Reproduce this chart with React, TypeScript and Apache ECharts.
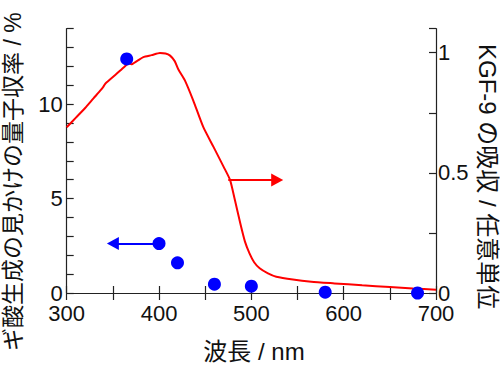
import React, { useEffect, useRef } from "react";
import * as echarts from "echarts";

const absorption: [number, number][] = [
  [300, 0.69], [310, 0.73], [320, 0.77], [329, 0.81], [337, 0.845], [340, 0.86], [342, 0.872],
  [354, 0.912], [362, 0.94], [367, 0.955], [370, 0.952], [376, 0.965], [383, 0.982], [392, 0.99],
  [401, 0.999], [407, 0.997], [412, 0.988], [417, 0.965], [421, 0.93], [428, 0.885], [437, 0.802],
  [448, 0.69], [459, 0.608], [470, 0.525], [477, 0.47], [482, 0.39], [488, 0.29], [493, 0.215],
  [498, 0.165], [503, 0.128], [509, 0.103], [518, 0.082], [527, 0.068], [545, 0.056], [565, 0.047],
  [590, 0.04], [620, 0.032], [650, 0.025], [675, 0.019], [700, 0.014],
];

const yieldWavelengths = [365, 400, 420, 460, 500, 580, 680];
const yieldValues = [12.4, 2.62, 1.6, 0.47, 0.36, 0.04, 0.0];

const redArrow: [number, number][] = [[475, 0.47], [528, 0.47]];
const blueArrow: [number, number][] = [[400, 2.62], [350, 2.62]];

const xTitle = "波長 / nm";
const leftTitle = "ギ酸生成の見かけの量子収率 / %";
const rightTitle = "KGF-9 の吸収 / 任意単位";

const FONT = "'Liberation Sans', Arial, 'Noto Sans CJK JP', sans-serif";

export default function App() {
  const ref = useRef<HTMLDivElement>(null);
  useEffect(() => {
    if (!ref.current) return;
    const chart = echarts.init(ref.current, undefined, { renderer: "svg" });
    const axisLine = { show: true, lineStyle: { color: "#222", width: 1.2 } };
    const tick = { show: true, inside: true, length: 7, lineStyle: { color: "#222", width: 1.2 } };
    chart.setOption({
      animation: false,
      backgroundColor: "#fff",
      grid: { left: 66.7, right: 64, top: 28.7, bottom: 76, containLabel: false },
      xAxis: [
        {
          type: "value", min: 300, max: 700, interval: 50, position: "bottom",
          axisLine, axisTick: tick, splitLine: { show: false },
          axisLabel: {
            fontSize: 22, lineHeight: 16, color: "#111", fontFamily: FONT, margin: 12,
            formatter: (v: number) => (v % 100 === 0 ? String(v) : ""),
          },
        },
        {
          type: "value", min: 300, max: 700, interval: 50, position: "top",
          axisLine, axisTick: tick, splitLine: { show: false }, axisLabel: { show: false },
        },
      ],
      yAxis: [
        {
          type: "value", min: 0, max: 14, interval: 1, position: "left",
          axisLine, axisTick: tick, splitLine: { show: false },
          axisLabel: {
            fontSize: 22, lineHeight: 16, color: "#111", fontFamily: FONT, margin: 4,
            formatter: (v: number) => (v % 5 === 0 && v <= 10 ? String(v) : ""),
          },
        },
        {
          type: "value", min: 0, max: 1.1, interval: 0.25, position: "right",
          axisLine, axisTick: tick, splitLine: { show: false },
          axisLabel: {
            fontSize: 22, lineHeight: 16, color: "#111", fontFamily: FONT, margin: 2,
            formatter: (v: number) => {
              if (Math.abs(v) < 1e-6) return "0";
              if (Math.abs(v - 0.5) < 1e-6) return "0.5";
              if (Math.abs(v - 1) < 1e-6) return "1";
              return "";
            },
          },
        },
      ],
      graphic: [
        {
          type: "text", x: 13, y: 351, rotation: Math.PI / 2,
          style: { text: leftTitle, fontSize: 23, fontFamily: FONT, fill: "#111", align: "left", verticalAlign: "middle" },
        },
        {
          type: "text", x: 487, y: 44, rotation: -Math.PI / 2,
          style: { text: rightTitle, fontSize: 24, fontFamily: FONT, fill: "#111", align: "left", verticalAlign: "middle" },
        },
        {
          type: "text", x: 254, y: 351,
          style: { text: xTitle, fontSize: 24, fontFamily: FONT, fill: "#111", align: "center", verticalAlign: "middle" },
        },
      ],
      series: [
        {
          type: "line", name: "吸収", xAxisIndex: 0, yAxisIndex: 1, data: absorption,
          showSymbol: false, smooth: 0.2, lineStyle: { color: "#ff0000", width: 2 }, itemStyle: { color: "#ff0000" },
          z: 2,
          markLine: {
            silent: true, symbol: ["none", "triangle"], symbolSize: [13, 12],
            label: { show: false }, lineStyle: { color: "#ff0000", width: 2, type: "solid" },
            emphasis: { disabled: true },
            data: [[{ coord: redArrow[0] }, { coord: redArrow[1] }]],
          },
        },
        {
          type: "scatter", name: "量子収率", xAxisIndex: 0, yAxisIndex: 0,
          data: yieldWavelengths.map((w, i) => [w, yieldValues[i]]),
          symbolSize: 13, itemStyle: { color: "#0000ff", opacity: 1 }, clip: false, z: 3,
          markLine: {
            silent: true, symbol: ["none", "triangle"], symbolSize: [13, 12],
            label: { show: false }, lineStyle: { color: "#0000ff", width: 2, type: "solid" },
            emphasis: { disabled: true },
            data: [[{ coord: blueArrow[0] }, { coord: blueArrow[1] }]],
          },
        },
      ],
    });
    return () => chart.dispose();
  }, []);
  return <div ref={ref} style={{ width: 500, height: 369, position: "absolute", left: 0, top: 0 }} />;
}
